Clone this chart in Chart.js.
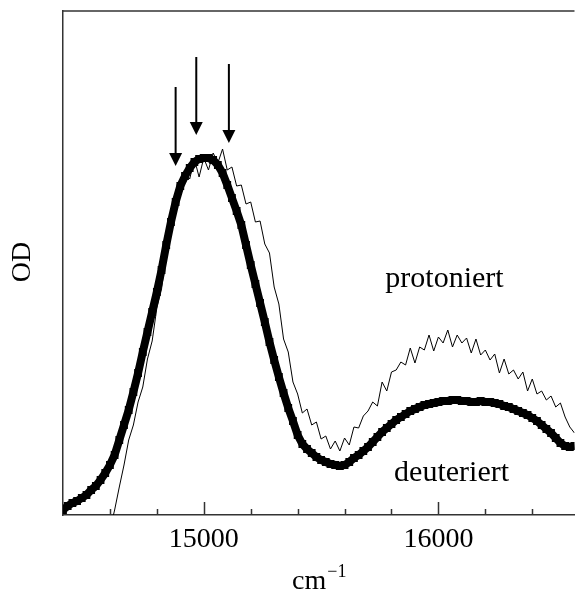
<!DOCTYPE html>
<html>
<head>
<meta charset="utf-8">
<script src="https://cdn.jsdelivr.net/npm/chart.js@4/dist/chart.umd.min.js"></script>
<style>
    html, body { margin: 0; padding: 0; background: #fff; }
    canvas { display: block; }
</style>
</head>
<body>
<canvas id="odChart" width="580" height="592"></canvas>
<script>
// wavenumbers (cm^-1) and OD readings taken off the figure
const deutX = [
    14400, 14420, 14440, 14460, 14480, 14500, 14520, 14540, 14560, 14580,
    14600, 14620, 14640, 14660, 14680, 14700, 14720, 14740, 14760, 14780,
    14800, 14820, 14840, 14860, 14880, 14900, 14920, 14940, 14960, 14980,
    15000, 15020, 15040, 15060, 15080, 15100, 15120, 15140, 15160, 15180,
    15200, 15220, 15240, 15260, 15280, 15300, 15320, 15340, 15360, 15380,
    15400, 15420, 15440, 15460, 15480, 15500, 15520, 15540, 15560, 15580,
    15600, 15620, 15640, 15660, 15680, 15700, 15720, 15740, 15760, 15780,
    15800, 15820, 15840, 15860, 15880, 15900, 15920, 15940, 15960, 15980,
    16000, 16020, 16040, 16060, 16080, 16100, 16120, 16140, 16160, 16180,
    16200, 16220, 16240, 16260, 16280, 16300, 16320, 16340, 16360, 16380,
    16400, 16420, 16440, 16460, 16480, 16500, 16520, 16540, 16560, 16580
];
const deutOD = [
    0.005, 0.009, 0.012, 0.014, 0.017, 0.020, 0.025, 0.029, 0.035, 0.042,
    0.050, 0.060, 0.075, 0.090, 0.105, 0.123, 0.142, 0.163, 0.183, 0.203,
    0.223, 0.245, 0.270, 0.293, 0.313, 0.329, 0.339, 0.347, 0.353, 0.356,
    0.357, 0.357, 0.355, 0.350, 0.342, 0.330, 0.317, 0.304, 0.290, 0.270,
    0.250, 0.231, 0.212, 0.193, 0.173, 0.155, 0.138, 0.122, 0.107, 0.094,
    0.080, 0.071, 0.066, 0.062, 0.058, 0.055, 0.053, 0.051, 0.050, 0.049,
    0.050, 0.053, 0.057, 0.060, 0.064, 0.068, 0.073, 0.078, 0.083, 0.087,
    0.091, 0.095, 0.098, 0.101, 0.104, 0.106, 0.108, 0.110, 0.111, 0.112,
    0.113, 0.114, 0.114, 0.115, 0.115, 0.114, 0.114, 0.113, 0.113, 0.114,
    0.113, 0.113, 0.112, 0.111, 0.109, 0.108, 0.106, 0.104, 0.102, 0.100,
    0.097, 0.094, 0.090, 0.086, 0.082, 0.077, 0.072, 0.069, 0.068, 0.069
];

const protX = [
    14600, 14620, 14640, 14660, 14680, 14700, 14720, 14740, 14760, 14780,
    14800, 14820, 14840, 14860, 14880, 14900, 14920, 14940, 14960, 14980,
    15000, 15020, 15040, 15060, 15080, 15100, 15120, 15140, 15160, 15180,
    15200, 15220, 15240, 15260, 15280, 15300, 15320, 15340, 15360, 15380,
    15400, 15420, 15440, 15460, 15480, 15500, 15520, 15540, 15560, 15580,
    15600, 15620, 15640, 15660, 15680, 15700, 15720, 15740, 15760, 15780,
    15800, 15820, 15840, 15860, 15880, 15900, 15920, 15940, 15960, 15980,
    16000, 16020, 16040, 16060, 16080, 16100, 16120, 16140, 16160, 16180,
    16200, 16220, 16240, 16260, 16280, 16300, 16320, 16340, 16360, 16380,
    16400, 16420, 16440, 16460, 16480, 16500, 16520, 16540, 16560, 16580
];
const protOD = [
    -0.015, 0.005, 0.028, 0.050, 0.075, 0.090, 0.113, 0.128, 0.156, 0.174,
    0.207, 0.226, 0.262, 0.279, 0.309, 0.322, 0.343, 0.336, 0.356, 0.338,
    0.357, 0.345, 0.362, 0.352, 0.366, 0.345, 0.348, 0.329, 0.330, 0.311,
    0.313, 0.293, 0.294, 0.271, 0.262, 0.228, 0.211, 0.176, 0.163, 0.133,
    0.121, 0.102, 0.106, 0.090, 0.093, 0.076, 0.079, 0.066, 0.074, 0.064,
    0.077, 0.070, 0.088, 0.087, 0.099, 0.104, 0.113, 0.109, 0.133, 0.124,
    0.143, 0.145, 0.153, 0.150, 0.167, 0.152, 0.168, 0.165, 0.180, 0.164,
    0.178, 0.172, 0.185, 0.168, 0.180, 0.172, 0.177, 0.162, 0.176, 0.160,
    0.165, 0.155, 0.161, 0.142, 0.156, 0.141, 0.145, 0.136, 0.143, 0.124,
    0.136, 0.121, 0.124, 0.115, 0.119, 0.108, 0.112, 0.098, 0.088, 0.082
];

const tickValues = [14600, 14800, 15000, 15200, 15400, 15600, 15800, 16000, 16200, 16400];
const tickLabels = ['15000', '16000'];

// arrows: x position, top and tip in OD units
const arrowX = [14880, 14968, 15107];
const arrowTop = [0.428, 0.458, 0.451];
const arrowTip = [0.349, 0.380, 0.372];

const curveLabels = ['protoniert', 'deuteriert'];
const curveLabelX = [16026, 16056];
const curveLabelY = [0.228, 0.034];

const serif = '"Liberation Serif", "Times New Roman", serif';
const lineColor = '#333';

const toPoints = (xs, ys) => xs.map((x, i) => ({ x: x, y: ys[i] }));

const decorPlugin = {
    id: 'decor',
    afterDraw: (chart) => {
        const ctx = chart.ctx;
        const area = chart.chartArea;
        const xs = chart.scales.x;
        const ys = chart.scales.y;

        ctx.save();
        ctx.strokeStyle = lineColor;
        ctx.lineWidth = 1.5;

        // top frame line
        ctx.beginPath();
        ctx.moveTo(area.left, area.top);
        ctx.lineTo(area.right, area.top);
        ctx.stroke();

        // inward ticks
        tickValues.forEach((v) => {
            const px = Math.round(xs.getPixelForValue(v)) + 0.5;
            const len = v % 1000 === 0 ? 13 : 6;
            ctx.beginPath();
            ctx.moveTo(px, area.bottom);
            ctx.lineTo(px, area.bottom - len);
            ctx.stroke();
        });

        // arrows
        ctx.strokeStyle = '#000';
        ctx.fillStyle = '#000';
        ctx.lineWidth = 2;
        arrowX.forEach((v, i) => {
            const px = xs.getPixelForValue(v);
            const top = ys.getPixelForValue(arrowTop[i]);
            const tip = ys.getPixelForValue(arrowTip[i]);
            ctx.beginPath();
            ctx.moveTo(px, top);
            ctx.lineTo(px, tip - 12);
            ctx.stroke();
            ctx.beginPath();
            ctx.moveTo(px - 6.5, tip - 13);
            ctx.lineTo(px + 6.5, tip - 13);
            ctx.lineTo(px, tip);
            ctx.closePath();
            ctx.fill();
        });

        // curve names
        ctx.font = '30px ' + serif;
        ctx.textAlign = 'center';
        ctx.textBaseline = 'alphabetic';
        curveLabels.forEach((t, i) => {
            ctx.fillText(t, xs.getPixelForValue(curveLabelX[i]), ys.getPixelForValue(curveLabelY[i]));
        });

        // axis titles
        ctx.font = '28px ' + serif;
        ctx.textAlign = 'left';
        const cmW = ctx.measureText('cm').width;
        ctx.font = '18px ' + serif;
        const supW = ctx.measureText('\u22121').width;
        const startX = (area.left + area.right) / 2 - (cmW + supW) / 2;
        ctx.font = '28px ' + serif;
        ctx.fillText('cm', startX, 589);
        ctx.font = '18px ' + serif;
        ctx.fillText('\u22121', startX + cmW + 1, 577);

        ctx.font = '28px ' + serif;
        ctx.textAlign = 'center';
        ctx.textBaseline = 'middle';
        ctx.translate(23, 262);
        ctx.rotate(-Math.PI / 2);
        ctx.fillText('OD', 0, 0);
        ctx.restore();
    },
};

new Chart(document.getElementById('odChart'), {
    type: 'line',
    data: {
        datasets: [
            {
                label: 'protoniert',
                data: toPoints(protX, protOD),
                borderColor: '#000',
                borderWidth: 1,
                pointRadius: 0,
                tension: 0,
                order: 1,
            },
            {
                label: 'deuteriert',
                data: toPoints(deutX, deutOD),
                borderColor: '#000',
                borderWidth: 8,
                pointStyle: 'rect',
                pointRadius: 5.5,
                pointBackgroundColor: '#000',
                pointBorderWidth: 0,
                tension: 0,
                order: 2,
            },
        ],
    },
    options: {
        responsive: false,
        animation: false,
        devicePixelRatio: 1,
        layout: {
            padding: { top: 11, left: 0, right: 0, bottom: 0 },
        },
        plugins: {
            legend: { display: false },
            tooltip: { enabled: false },
        },
        scales: {
            x: {
                type: 'linear',
                min: 14400,
                max: 16580,
                afterBuildTicks: (scale) => {
                    scale.ticks = tickValues.map((v) => ({ value: v }));
                },
                afterFit: (scale) => {
                    scale.height = 77;
                },
                ticks: {
                    autoSkip: false,
                    maxRotation: 0,
                    padding: 8,
                    color: '#000',
                    font: { family: serif, size: 28 },
                    callback: (v) => (tickLabels.includes(String(v)) ? String(v) : ''),
                },
                grid: { display: false, drawTicks: false },
                border: { display: true, color: lineColor, width: 1.5 },
            },
            y: {
                min: 0,
                max: 0.504,
                afterFit: (scale) => {
                    scale.width = 63;
                },
                ticks: { display: false },
                grid: { display: false, drawTicks: false },
                border: { display: true, color: lineColor, width: 1.5 },
            },
        },
    },
    plugins: [decorPlugin],
});
</script>
</body>
</html>
